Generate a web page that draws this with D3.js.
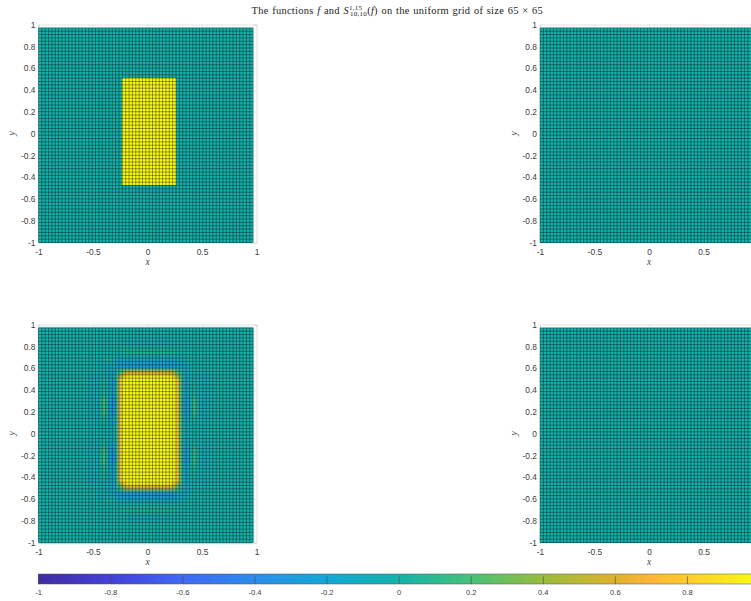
<!DOCTYPE html>
<html>
<head>
<meta charset="utf-8">
<style>
  body { margin: 0; background: #fff; overflow: hidden; }
  svg { display: block; font-family: "Liberation Sans", sans-serif; }
  .tick text { fill: #3c3c3c; font-size: 8.4px; }
  .frame path, .frame line { stroke: #d4d4d4; stroke-width: .7; }
  .axis-name { fill: #444; font-family: "Liberation Serif", serif; font-style: italic; font-size: 9.5px; }
</style>
<script src="https://cdn.jsdelivr.net/npm/d3@7"></script>
</head>
<body>
<script>
// tick labels
const xTicks = [-1, -0.5, 0, 0.5, 1];
const yTicks = [-1, -0.8, -0.6, -0.4, -0.2, 0, 0.2, 0.4, 0.6, 0.8, 1];
const barTicks = [-1, -0.8, -0.6, -0.4, -0.2, 0, 0.2, 0.4, 0.6, 0.8, 1];

// colour bar
const barValues = [-1, -0.8, -0.6, -0.4, -0.2, 0, 0.2, 0.4, 0.6, 0.7, 0.8, 1];
const barColors = ["#3f2ca0", "#4440da", "#3f68f4", "#2b8dec", "#12a8d6", "#14b2ac", "#45c278", "#98bd3c", "#dfb12c", "#fdb536", "#fdcc2c", "#f9fb15"];

// one letter per grid cell, see cellCodes
const cellCodes = {a: -0.3, b: -0.2, c: -0.1, d: -0.05, 0: 0, 1: 0.05, 2: 0.1, 3: 0.2, 4: 0.4, 5: 0.6, 6: 0.8, 7: 1};

// rows, written in groups of ten cells
const blank   = "0000000000 0000000000 0000000000 0000000000 0000000000 0000000000 0000";
const pulse   = "0000000000 0000000000 0000077777 7777777777 7000000000 0000000000 0000";

const ring3   = "0000000000 0000000000 0000000ddd dddddddddd 0000000000 0000000000 0000";
const ring4   = "0000000000 0000000000 000000dddd dddddddddd 0000000000 0000000000 0000";
const ring6   = "0000000000 0000000000 0000111111 1111111111 1100000000 0000000000 0000";
const ring7   = "0000000000 0000000000 0000011111 1111111111 1000000000 0000000000 0000";
const ring8   = "0000000000 0000000000 0000dddddd dddddddddd dd00000000 0000000000 0000";
const ring9   = "0000000000 00000000dd 22dccccccc cccccccccc ccdd000000 0000000000 0000";
const band10  = "0000000000 0000000ddd ddccbbbbbb bbbbbbbbbb bccdd00000 0000000000 0000";
const band11  = "0000000000 0000000ddd dccbaaaaaa aaaaaaaaaa abbccd0000 0000000000 0000";
const edge12  = "0000000000 0000000000 dcc1233333 3333333333 321ccd0000 0000000000 0000";
const edge13  = "0000000000 0000000ddd dcb2345555 5555555555 432bcd00dd 0000000000 0000";
const edge14  = "0000000000 00000dcd00 0cb3467777 7777777777 643bc000dc d000000000 0000";
const edge15  = "0000000000 00000dcd00 0cb3677777 7777777777 763bc000dc d000000000 0000";
const side    = "0000000000 00000ddd01 0cb3677777 7777777777 763bc010dd d000000000 0000";
const strong  = "0000000000 00000cdd03 dba3677777 7777777777 763abd30dc d000000000 0000";
const middle  = "0000000000 000000d000 0cc3677777 7777777777 763cc0000d 0000000000 0000";

const fRows = d3.range(64).map(r => (r >= 15 && r <= 46) ? pulse : blank);
const flatRows = d3.range(64).map(() => blank);
const sRows = [
  blank, blank, blank, ring3, ring4, blank, ring6, ring7, ring8, ring9,
  band10, band11, edge12, edge13, edge14, edge15,
  side, side, side, side, side,
  strong, strong, strong, strong, strong,
  side, side,
  middle, middle, middle, middle, middle, middle,
  side, side,
  strong, strong, strong, strong, strong,
  side, side, side, side,
  edge15, edge14, edge13, edge12, band11, band10, ring9, ring8, ring7, ring6,
  blank, ring4, ring3,
  blank, blank, blank, blank, blank, blank
];

const pageWidth = 751;
const size = 218;
const panels = [
  {left: 38.5, top: 24.5, rows: fRows},
  {left: 540, top: 24.5, rows: flatRows},
  {left: 38.5, top: 324.5, rows: sRows, smooth: true},
  {left: 540, top: 324.5, rows: flatRows}
];

const color = d3.scaleLinear().domain(barValues).range(barColors);

const svg = d3.select("body").append("svg")
    .attr("width", pageWidth)
    .attr("height", 601);

const defs = svg.append("defs");
defs.append("filter").attr("id", "interp")
    .attr("x", "-5%").attr("y", "-5%").attr("width", "110%").attr("height", "110%")
    .append("feGaussianBlur").attr("stdDeviation", .8);

// the title, set by hand because there is no TeX here
const title = svg.append("text")
    .attr("x", 251.5)
    .attr("y", 13.5)
    .style("font-family", "'Liberation Serif', serif")
    .style("font-size", "10.4px")
    .style("letter-spacing", ".3px")
    .style("word-spacing", ".7px")
    .attr("fill", "#222");
title.append("tspan").text("The functions ");
title.append("tspan").style("font-style", "italic").text("f");
title.append("tspan").text(" and ");
title.append("tspan").style("font-style", "italic").text("S");
title.append("tspan").attr("dy", -4).style("font-size", "7px").text("1,15");
title.append("tspan").attr("dx", -12.5).attr("dy", 6.5).style("font-size", "7px").text("10,10");
title.append("tspan").attr("dy", -2.5).text("(");
title.append("tspan").style("font-style", "italic").text("f");
title.append("tspan").text(") on the uniform grid of size 65 × 65");

panels.forEach(p => {
    const g = svg.append("g").attr("transform", "translate(" + p.left + "," + p.top + ")");

    const x = d3.scaleLinear().domain([-1, 1]).range([0, size]);
    const y = d3.scaleLinear().domain([-1, 1]).range([size, 0]);

    // grid nodes x_i = -1 + 2i/65, the last one stops short of 1
    const nodes = d3.range(65).map(i => -1 + i * 2 / 65);

    // right hand panels run off the page, no labels out there
    const shownX = xTicks.filter(t => p.left + x(t) < pageWidth);

    // box and ticks go underneath the surface
    g.append("g").attr("class", "frame").call(d3.axisTop(x).tickValues(xTicks).tickSize(-2).tickFormat(""));
    g.append("g").attr("class", "frame").attr("transform", "translate(" + size + ",0)")
        .call(d3.axisRight(y).tickValues(yTicks).tickSize(-2).tickFormat(""));
    g.append("g").attr("class", "frame").attr("transform", "translate(0," + size + ")")
        .call(d3.axisBottom(x).tickValues(shownX).tickSize(0).tickPadding(7).tickFormat(d => d));
    g.append("g").attr("class", "frame")
        .call(d3.axisLeft(y).tickValues(yTicks).tickSize(0).tickPadding(3).tickFormat(d => d));

    // a base coat, so the blur does not fade at the rim
    g.append("rect")
        .attr("x", x(nodes[0]))
        .attr("y", y(nodes[64]))
        .attr("width", x(nodes[64]) - x(nodes[0]))
        .attr("height", y(nodes[0]) - y(nodes[64]))
        .attr("fill", color(0));

    const cells = [];
    p.rows.forEach((row, r) => {
        row.replace(/ /g, "").split("").forEach((code, c) => {
            cells.push({r: r, c: c, v: cellCodes[code]});
        });
    });

    const surface = g.append("g").attr("shape-rendering", "crispEdges");
    if (p.smooth) surface.attr("filter", "url(#interp)");
    surface.selectAll("rect")
        .data(cells)
        .enter().append("rect")
        .attr("x", d => x(nodes[d.c]))
        .attr("y", d => y(nodes[64 - d.r]))
        .attr("width", d => x(nodes[d.c + 1]) - x(nodes[d.c]) + .2)
        .attr("height", d => y(nodes[63 - d.r]) - y(nodes[64 - d.r]) + .2)
        .attr("fill", d => color(d.v));

    // mesh lines
    const mesh = g.append("g").attr("stroke", "#000").attr("stroke-width", .55).attr("stroke-opacity", .7);
    mesh.selectAll(".v")
        .data(nodes)
        .enter().append("line")
        .attr("x1", d => x(d)).attr("x2", d => x(d))
        .attr("y1", y(nodes[64])).attr("y2", y(nodes[0]));
    mesh.selectAll(".h")
        .data(nodes)
        .enter().append("line")
        .attr("y1", d => y(d)).attr("y2", d => y(d))
        .attr("x1", x(nodes[0])).attr("x2", x(nodes[64]));

    g.append("text").attr("class", "axis-name")
        .attr("x", x(0))
        .attr("y", size + 22)
        .attr("text-anchor", "middle")
        .text("x");
    g.append("text").attr("class", "axis-name")
        .attr("transform", "translate(-23.5," + y(0) + ") rotate(-90)")
        .attr("text-anchor", "middle")
        .text("y");
});

// colour bar
const barTop = 574, barHeight = 10;
const bar = d3.scaleLinear().domain([-1, 1]).range([38.2, 759]);

const gradient = defs.append("linearGradient").attr("id", "bar");
barValues.forEach((v, i) => {
    gradient.append("stop")
        .attr("offset", ((v + 1) / 2 * 100) + "%")
        .attr("stop-color", barColors[i]);
});

svg.append("rect")
    .attr("x", bar(-1))
    .attr("y", barTop)
    .attr("width", bar(1) - bar(-1))
    .attr("height", barHeight)
    .attr("fill", "url(#bar)")
    .attr("stroke", "#555")
    .attr("stroke-width", .5);

const barAxis = svg.append("g")
    .attr("transform", "translate(0," + (barTop + barHeight) + ")")
    .call(d3.axisBottom(bar).tickValues(barTicks.filter(t => bar(t) < pageWidth)).tickSize(-7.5).tickPadding(5.5).tickSizeOuter(0).tickFormat(d => d));
barAxis.select(".domain").remove();
barAxis.selectAll("line").attr("stroke", "#444").attr("stroke-width", .6);
barAxis.selectAll("text").style("font-size", "7.6px");
</script>
</body>
</html>
